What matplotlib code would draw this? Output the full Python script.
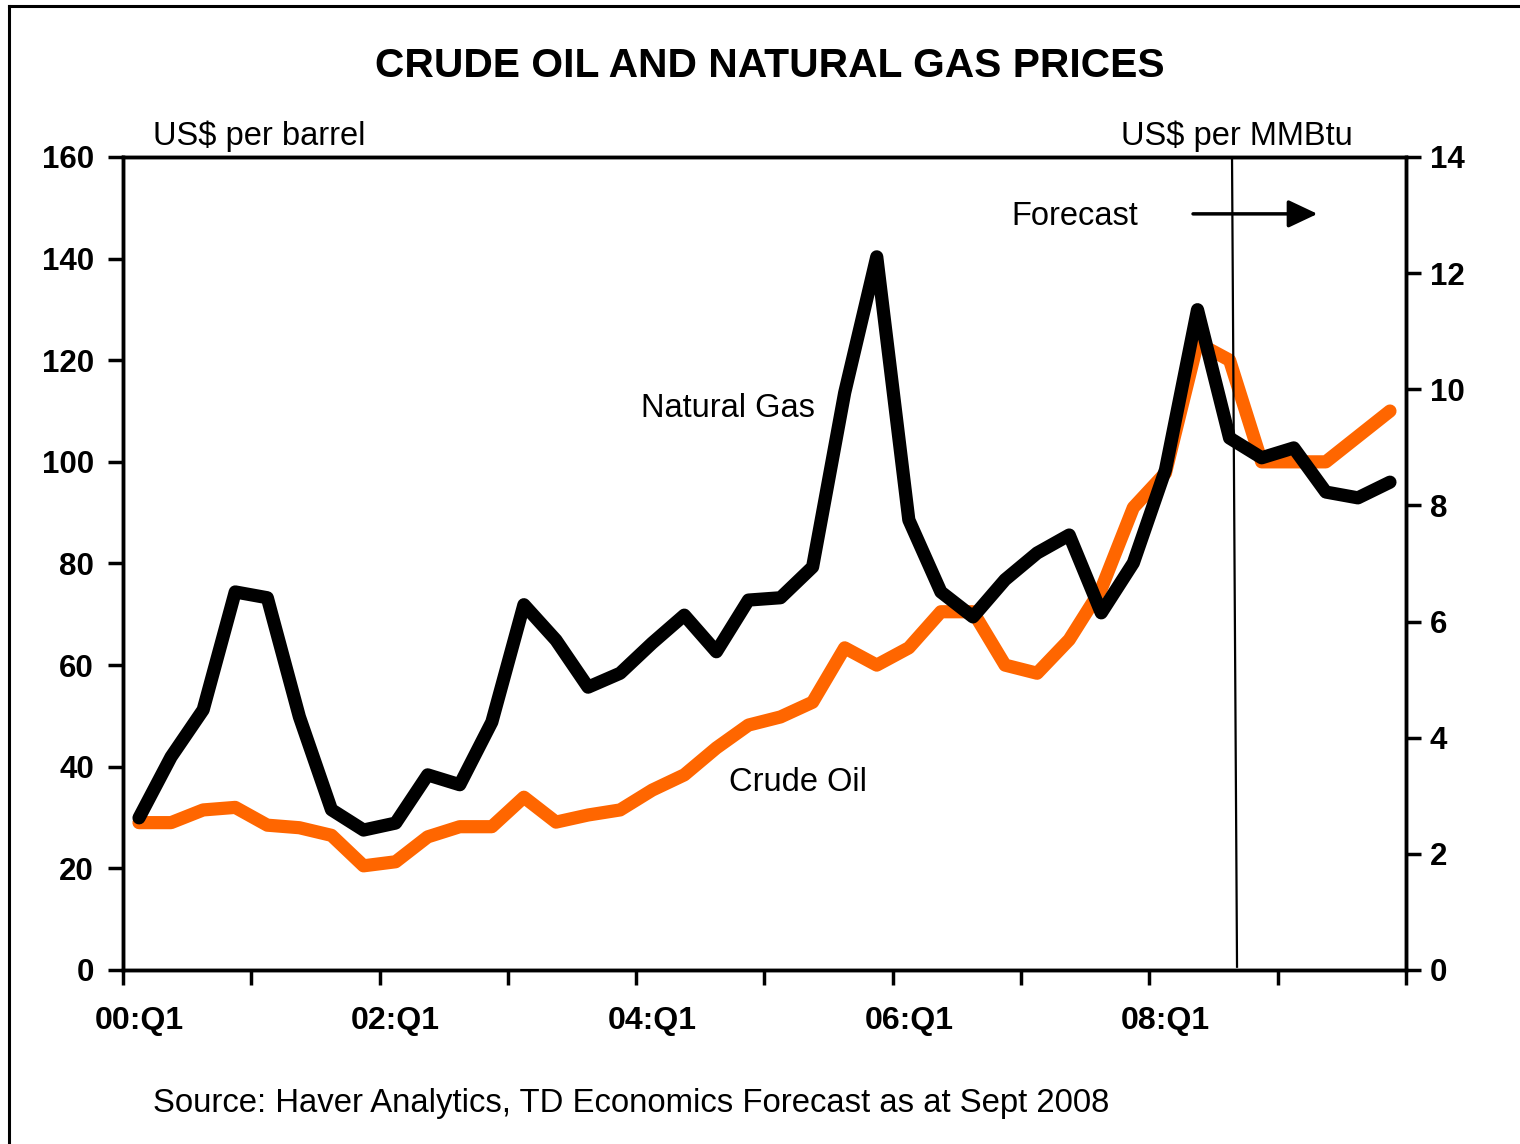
import matplotlib
matplotlib.use("Agg")
import matplotlib.pyplot as plt
from matplotlib.lines import Line2D

plt.rcParams['font.family'] = ['Liberation Sans', 'DejaVu Sans']

# quarterly categories 2000Q1 .. 2009Q4
quarters = [f"{y:02d}:Q{q}" for y in range(0, 10) for q in range(1, 5)]

# crude oil, US$ per barrel (left axis)
crude_oil = [29, 29, 31.5, 32, 28.5, 28, 26.5, 20.5, 21.3, 26.2,
             28.2, 28.2, 34, 29.1, 30.5, 31.5, 35.4, 38.4, 43.7, 48.2,
             49.8, 52.7, 63.4, 60, 63.4, 70.5, 70.5, 60, 58.4, 65,
             75, 91, 97.8, 123.4, 120, 100, 100, 100, 105, 110]

# natural gas, US$ per MMBtu (right axis)
natural_gas = [2.62, 3.67, 4.48, 6.51, 6.41, 4.36, 2.76, 2.41, 2.53, 3.36,
               3.19, 4.27, 6.29, 5.68, 4.87, 5.11, 5.63, 6.11, 5.48, 6.37,
               6.41, 6.94, 9.94, 12.28, 7.75, 6.51, 6.08, 6.72, 7.18, 7.49,
               6.15, 7.01, 8.61, 11.37, 9.16, 8.82, 8.99, 8.23, 8.13, 8.40]

left_ticks = [0, 20, 40, 60, 80, 100, 120, 140, 160]
right_ticks = [0, 2, 4, 6, 8, 10, 12, 14]
label_every = 8

x = list(range(len(quarters)))

fig = plt.figure(figsize=(15.2, 11.44), dpi=100)
ax = fig.add_axes([0.0809, 0.1521, 0.8441, 0.7107])
ax2 = ax.twinx()

ax.plot(x, crude_oil, color='#FF6600', lw=9.5,
        solid_joinstyle='round', solid_capstyle='round')
ax2.plot(x, natural_gas, color='black', lw=9.5,
         solid_joinstyle='round', solid_capstyle='round')

ax.set_xlim(-0.5, len(quarters) - 0.5)
ax.set_ylim(0, 160)
ax2.set_ylim(0, 14)
ax.set_yticks(left_ticks)
ax2.set_yticks(right_ticks)

# year boundary ticks (unlabelled), labels under every second Q1
ax.set_xticks([i - 0.5 for i in range(0, len(quarters) + 1, 4)])
ax.set_xticklabels([])
ax.set_xticks(x[::label_every], minor=True)
ax.set_xticklabels(quarters[::label_every], minor=True)
ax.tick_params(axis='x', which='major', direction='out', length=11, width=2.5)
ax.tick_params(axis='x', which='minor', length=0, pad=26, labelsize=23)
for lab in ax.get_xticklabels(minor=True):
    lab.set_fontweight('bold')

ax.tick_params(axis='y', direction='out', length=11, width=2.5, pad=10,
               labelsize=22.5)
ax2.tick_params(axis='y', direction='out', length=11, width=2.5, pad=6,
                labelsize=22.5)
for lab in ax.get_yticklabels() + ax2.get_yticklabels():
    lab.set_fontweight('bold')

for a in (ax, ax2):
    for sp in a.spines.values():
        sp.set_linewidth(2.5)

# forecast divider and arrow
ax2.plot([0.8644, 0.8683], [1.0, 0.004], transform=ax.transAxes,
         color='black', lw=1.6, zorder=10)
ax2.text(0.742, 0.927, "Forecast", transform=ax.transAxes,
         ha='center', va='center', fontsize=23.5)
ax2.annotate('', xy=(0.931, 0.930), xytext=(0.834, 0.930),
             xycoords=ax.transAxes, textcoords=ax.transAxes,
             arrowprops=dict(arrowstyle='-|>,head_length=1.8,head_width=0.85',
                             color='black', lw=2.5, shrinkA=0, shrinkB=0))

ax2.text(0.4716, 0.690, "Natural Gas", transform=ax.transAxes,
         ha='center', va='center', fontsize=23.5)
ax2.text(0.526, 0.231, "Crude Oil", transform=ax.transAxes,
         ha='center', va='center', fontsize=23.5)
ax2.text(0.0234, 1.026, "US$ per barrel", transform=ax.transAxes,
         ha='left', va='center', fontsize=23.5)
ax2.text(0.778, 1.026, "US$ per MMBtu", transform=ax.transAxes,
         ha='left', va='center', fontsize=23.5)

fig.text(0.5066, 0.942, "CRUDE OIL AND NATURAL GAS PRICES",
         ha='center', va='center', fontsize=29.3, fontweight='bold')
fig.text(0.1007, 0.035,
         "Source: Haver Analytics, TD Economics Forecast as at Sept 2008",
         ha='left', va='center', fontsize=23.7)

# outer frame (left and top edges visible)
fig.add_artist(Line2D([0.0059, 0.0059], [0.0, 0.9948], color='black',
                      lw=2.2, transform=fig.transFigure))
fig.add_artist(Line2D([0.0059, 1.0], [0.9948, 0.9948], color='black',
                      lw=2.2, transform=fig.transFigure))

fig.savefig("out.png", dpi=100)
